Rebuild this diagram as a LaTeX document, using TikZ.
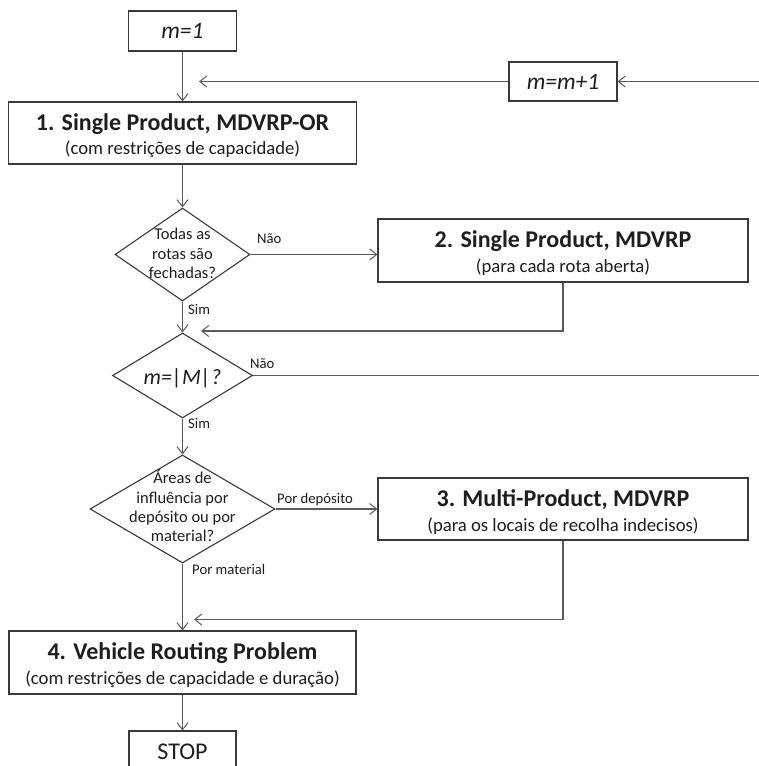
\documentclass[tikz,border=0pt]{standalone}
\usepackage{fontspec}
\setmainfont{Carlito}
\usetikzlibrary{shapes.geometric,arrows.meta}
\definecolor{bordc}{HTML}{3A3A3A}
\definecolor{linec}{HTML}{5A5A5A}
\definecolor{txtc}{HTML}{1E1E1E}
\begin{document}
\begin{tikzpicture}[x=1pt,y=-1pt,
  box/.style={draw=bordc, line width=1.1pt, rectangle, inner sep=0pt, fill=white},
  dia/.style={draw=bordc, line width=1.1pt, diamond, inner sep=0pt, fill=white},
  conn/.style={draw=linec, line width=1.1pt},
  arr/.style={conn, -{Straight Barb[length=7pt,width=11pt,line width=1pt]}},
  ttl/.style={anchor=base, inner sep=0pt, text=txtc, font=\fontsize{24}{28}\selectfont\bfseries},
  sub/.style={anchor=base, inner sep=0pt, text=txtc, font=\fontsize{18.7}{22}\selectfont},
  qtxt/.style={inner sep=0pt, text=txtc, align=center, font=\fontsize{16.5}{19.4}\selectfont},
  lbl/.style={anchor=base west, inner sep=0pt, text=txtc, font=\fontsize{14.7}{17}\selectfont},
  mtxt/.style={anchor=base, inner sep=0pt, text=txtc, font=\fontsize{23.5}{26}\selectfont\itshape},
  stoptxt/.style={anchor=base, inner sep=0pt, text=txtc, font=\fontsize{24}{28}\selectfont},
]
\useasboundingbox (0,0) rectangle (759,766);
\clip (0,0) rectangle (759,766);
\fill[white] (0,0) rectangle (759,766);

% boxes
\node[box, minimum width=108pt, minimum height=40pt] (m1) at (182.5,31) {};
\node[mtxt] (m1t) at (182.5,38.5) {m=1};
\node[box, minimum width=108pt, minimum height=39pt] (mm) at (563,81.5) {};
\node[mtxt] (mmt) at (563,89) {m=m+1};

\node[box, minimum width=348pt, minimum height=62pt] (b1) at (182.5,133) {};
\node[ttl] (b1t) at (182.5,130.5) {1. Single Product, MDVRP-OR};
\node[sub] (b1s) at (182.5,154) {(com restrições de capacidade)};

\node[box, minimum width=370pt, minimum height=63pt] (b2) at (563,250.5) {};
\node[ttl] (b2t) at (563,247.5) {2. Single Product, MDVRP};
\node[sub] (b2s) at (563,272.5) {(para cada rota aberta)};

\node[box, minimum width=370pt, minimum height=62pt] (b3) at (563,509) {};
\node[ttl] (b3t) at (563,506.5) {3. Multi-Product, MDVRP};
\node[sub] (b3s) at (563,531.5) {(para os locais de recolha indecisos)};

\node[box, minimum width=347pt, minimum height=63pt] (b4) at (182.5,662.5) {};
\node[ttl] (b4t) at (182.5,659.5) {4. Vehicle Routing Problem};
\node[sub] (b4s) at (182.5,684) {(com restrições de capacidade e duração)};

\node[box, minimum width=107pt, minimum height=42pt] (stop) at (182.5,752) {};
\node[stoptxt] (stopt) at (182.5,759) {STOP};

% diamonds
\node[dia, minimum width=135pt, minimum height=93pt] (d1) at (182.5,254.5) {};
\node[qtxt] (d1t) at (182.5,253.5) {Todas as\\rotas são\\fechadas?};
\node[dia, minimum width=140pt, minimum height=85pt] (d2) at (182.5,375.5) {};
\node[mtxt, font=\fontsize{22}{26}\selectfont\itshape] (d2t) at (182.5,384) {m=|M|?};
\node[dia, minimum width=185pt, minimum height=108pt] (d3) at (182.5,509) {};
\node[qtxt] (d3t) at (182.5,506) {Áreas de\\influência por\\depósito ou por\\material?};

% connectors
\coordinate (rt) at (759,81.5);
\coordinate (j1) at (199,81.5);
\coordinate (j2) at (201,331);
\coordinate (r2) at (759,375.5);
\coordinate (j3) at (194,619.5);

\draw[arr] (m1) -- (b1);
\draw[arr] (rt) -- (mm.east);
\draw[arr] (mm.west) -- (j1);
\draw[arr] (b1) -- (d1);
\draw[arr] (d1.east) -- (d1.east -| b2.west);
\draw[arr] (d1) -- (d2);
\draw[arr] (b2.south) |- (j2);
\draw[conn] (d2.east) -- (r2);
\draw[arr] (d2) -- (d3);
\draw[arr] (d3) -- (b3);
\draw[arr] (b3.south) |- (j3);
\draw[arr] (d3) -- (b4);
\draw[arr] (b4) -- (stop);

% labels
\node[lbl] (n1) at (257,243) {Não};
\node[lbl] (s1) at (188,314) {Sim};
\node[lbl] (n2) at (250,368) {Não};
\node[lbl] (s2) at (188,428) {Sim};
\node[lbl] (pd) at (277,503) {Por depósito};
\node[lbl] (pm) at (192,574) {Por material};
\end{tikzpicture}
\end{document}
